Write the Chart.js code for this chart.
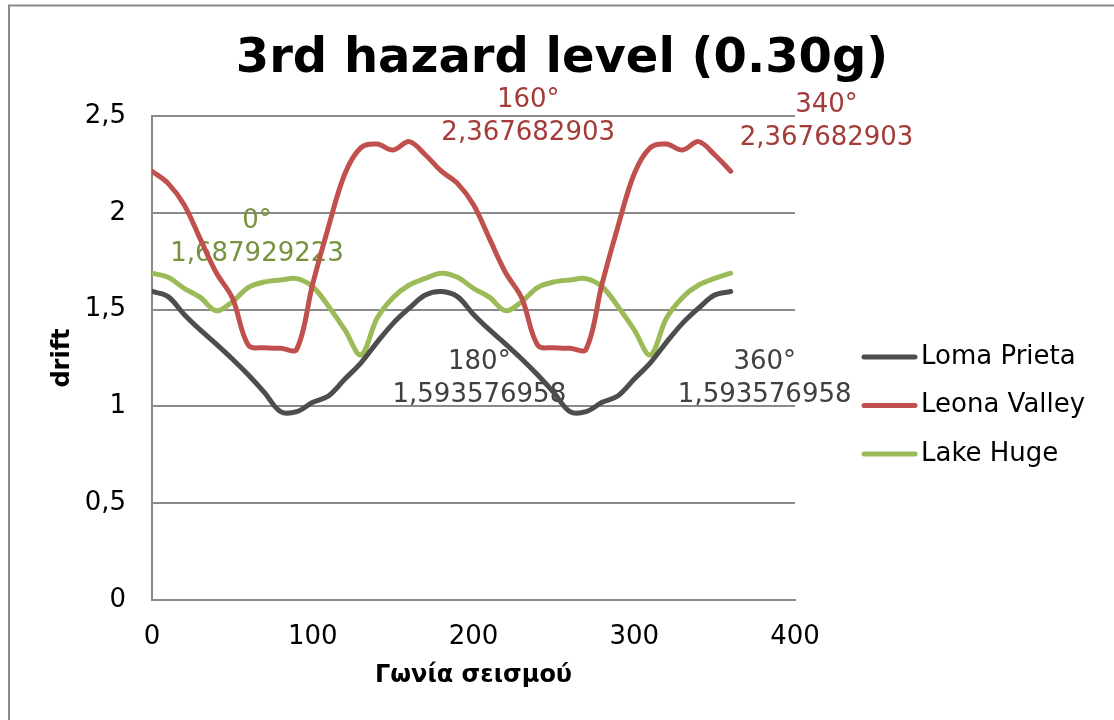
<!DOCTYPE html>
<html>
<head>
<meta charset="utf-8">
<title>3rd hazard level (0.30g)</title>
<script src="https://cdn.jsdelivr.net/npm/chart.js@4.4.1/dist/chart.umd.min.js"></script>
<style>
  html, body { margin: 0; padding: 0; background: #ffffff; }
  #wrap { width: 1114px; height: 720px; }
</style>
</head>
<body>
<div id="wrap"><canvas id="chart" width="1114" height="720"></canvas></div>
<script>
// Earthquake incidence angle (degrees)
const angles = [0, 10, 20, 30, 40, 50, 60, 70, 80, 90, 100, 110, 120, 130, 140, 150, 160, 170, 180,
                190, 200, 210, 220, 230, 240, 250, 260, 270, 280, 290, 300, 310, 320, 330, 340, 350, 360];

// Drift per record
const lomaPrieta = [1.593576958, 1.567, 1.475, 1.395, 1.322, 1.245, 1.162, 1.071, 0.973, 0.973,
                    1.021, 1.055, 1.141, 1.225, 1.331, 1.429, 1.507, 1.575, 1.593576958,
                    1.567, 1.475, 1.395, 1.322, 1.245, 1.162, 1.071, 0.973, 0.973,
                    1.021, 1.055, 1.141, 1.225, 1.331, 1.429, 1.507, 1.575, 1.593576958];

const leonaValley = [2.215, 2.152, 2.042, 1.865, 1.69, 1.56, 1.315, 1.303, 1.3, 1.295,
                     1.634, 1.934, 2.202, 2.337, 2.355, 2.324, 2.367682903, 2.3, 2.215,
                     2.152, 2.042, 1.865, 1.69, 1.56, 1.315, 1.303, 1.3, 1.295,
                     1.634, 1.934, 2.202, 2.337, 2.355, 2.324, 2.367682903, 2.3, 2.215];

const lakeHuge = [1.687929223, 1.667, 1.61, 1.563, 1.494, 1.541, 1.615, 1.643, 1.653, 1.66,
                  1.618, 1.515, 1.395, 1.266, 1.455, 1.563, 1.627, 1.661, 1.687929223,
                  1.667, 1.61, 1.563, 1.494, 1.541, 1.615, 1.643, 1.653, 1.66,
                  1.618, 1.515, 1.395, 1.266, 1.455, 1.563, 1.627, 1.661, 1.687929223];

const seriesNames = ['Loma Prieta', 'Leona Valley', 'Lake Huge'];

// Axis ticks
const xTicks = [0, 100, 200, 300, 400];
const yTicks = [0, 0.5, 1, 1.5, 2, 2.5];

// Annotated points: [series index, angle]
const calloutSeries = [2, 1, 1, 0, 0];
const calloutAngles = [0, 160, 340, 180, 360];

const chartTitle = '3rd hazard level (0.30g)';

const FONT = "'DejaVu Sans', Verdana, sans-serif";
const lineColors = ['#4d4d4d', '#c0504d', '#9bbb59'];
const labelColors = ['#404040', '#a33c39', '#77933c'];
// pixel offsets of each callout block from its point
const calloutOffsets = [[105, -36], [119, -25], [128, -20], [38, 87], [34, 87]];

const comma = v => String(v).replace('.', ',');
const toPoints = arr => angles.map((a, i) => ({ x: a, y: arr[i] }));

const frame = {
  id: 'frame',
  beforeDraw(chart) {
    const ctx = chart.ctx;
    ctx.save();
    ctx.strokeStyle = '#8a8a8a';
    ctx.lineWidth = 2;
    ctx.strokeRect(9, 5.5, 1200, 800);
    ctx.fillStyle = '#000000';
    ctx.font = 'bold 48px ' + FONT;
    ctx.textAlign = 'center';
    ctx.textBaseline = 'middle';
    ctx.fillText(chartTitle, 562, 60);
    ctx.restore();
  }
};

const callouts = {
  id: 'callouts',
  beforeDatasetsDraw(chart) {
    const ctx = chart.ctx;
    ctx.save();
    ctx.font = '26px ' + FONT;
    ctx.textAlign = 'center';
    ctx.textBaseline = 'middle';
    calloutSeries.forEach((s, k) => {
      const idx = angles.indexOf(calloutAngles[k]);
      const pt = chart.getDatasetMeta(s).data[idx];
      const value = chart.data.datasets[s].data[idx].y;
      const cx = pt.x + calloutOffsets[k][0];
      const cy = pt.y + calloutOffsets[k][1];
      ctx.fillStyle = labelColors[s];
      ctx.fillText(calloutAngles[k] + '\u00B0', cx, cy - 16);
      ctx.fillText(comma(value), cx, cy + 17);
    });
    ctx.restore();
  }
};

const sideLegend = {
  id: 'sideLegend',
  afterDraw(chart) {
    const ctx = chart.ctx;
    ctx.save();
    ctx.font = '26px ' + FONT;
    ctx.textBaseline = 'middle';
    ctx.textAlign = 'left';
    chart.data.datasets.forEach((ds, i) => {
      const y = 357 + i * 48.5;
      ctx.strokeStyle = ds.borderColor;
      ctx.lineWidth = 5;
      ctx.lineCap = 'round';
      ctx.beginPath();
      ctx.moveTo(864, y);
      ctx.lineTo(915, y);
      ctx.stroke();
      ctx.fillStyle = '#000000';
      ctx.fillText(ds.label, 921, y);
    });
    ctx.restore();
  }
};

new Chart(document.getElementById('chart'), {
  type: 'line',
  data: {
    datasets: [lomaPrieta, leonaValley, lakeHuge].map((arr, i) => ({
      label: seriesNames[i],
      data: toPoints(arr),
      borderColor: lineColors[i],
      backgroundColor: lineColors[i],
      borderWidth: 5,
      pointRadius: 0,
      tension: 0.35,
      borderCapStyle: 'round',
      borderJoinStyle: 'round',
      fill: false
    }))
  },
  options: {
    responsive: false,
    animation: false,
    layout: { padding: { top: 116, left: 0, right: 319, bottom: 0 } },
    plugins: {
      legend: { display: false },
      tooltip: { enabled: false },
      title: { display: false }
    },
    scales: {
      x: {
        type: 'linear',
        min: 0,
        max: 400,
        afterBuildTicks: scale => { scale.ticks = xTicks.map(v => ({ value: v })); },
        afterFit: scale => { scale.height = 120; },
        grid: { display: false, drawTicks: false },
        border: { display: true, color: '#8a8a8a', width: 2 },
        ticks: {
          padding: 22,
          color: '#000000',
          font: { family: FONT, size: 26 }
        },
        title: {
          display: true,
          text: 'Γωνία σεισμού',
          color: '#000000',
          font: { family: FONT, size: 24, weight: 'bold' },
          padding: { top: 0, bottom: 29.6 }
        }
      },
      y: {
        min: 0,
        max: 2.5,
        afterBuildTicks: scale => { scale.ticks = yTicks.map(v => ({ value: v })); },
        afterFit: scale => { scale.width = 152; },
        grid: { color: '#8a8a8a', lineWidth: 2, drawTicks: false },
        border: { display: true, color: '#8a8a8a', width: 2 },
        ticks: {
          padding: 26,
          color: '#000000',
          font: { family: FONT, size: 26 },
          callback: v => comma(v)
        },
        title: {
          display: true,
          text: 'drift',
          color: '#000000',
          font: { family: FONT, size: 24, weight: 'bold' },
          padding: { top: 48.6, bottom: 0 }
        }
      }
    }
  },
  plugins: [frame, callouts, sideLegend]
});
</script>
</body>
</html>
